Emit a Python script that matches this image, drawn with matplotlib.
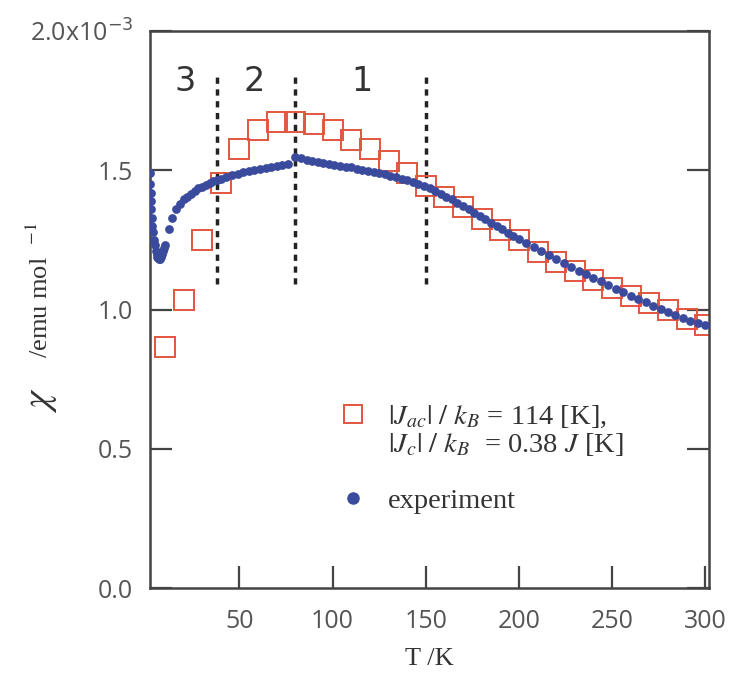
import matplotlib
matplotlib.use('Agg')
import matplotlib.pyplot as plt
from matplotlib.lines import Line2D

# model curve (open squares), chi in units of 1e-3 emu/mol
model_T = [10, 20, 30, 40, 50, 60, 70, 80, 90, 100,
           110, 120, 130, 140, 150, 160, 170, 180, 190, 200,
           210, 220, 230, 240, 250, 260, 270, 280, 290, 300]
model_chi = [0.865, 1.034, 1.25, 1.455, 1.575, 1.645, 1.675, 1.675, 1.665, 1.645,
             1.61, 1.575, 1.535, 1.49, 1.445, 1.405, 1.367, 1.325, 1.287, 1.25,
             1.208, 1.172, 1.137, 1.105, 1.076, 1.047, 1.022, 0.997, 0.965, 0.945]

# measured susceptibility (filled circles)
exp_T = [2.0, 2.2, 2.4, 2.6, 2.8, 3.0, 3.3, 3.6, 4.0, 4.5,
         5.0, 5.5, 6.0, 6.5, 7.0, 7.5, 8.0, 8.5, 9.0, 9.5,
         10, 12, 14, 16, 18, 20, 22, 24, 26, 28,
         30, 32, 34, 36, 38, 40, 43, 46, 49, 52,
         55, 58, 61, 64, 67, 70, 73, 76, 80, 83,
         86, 89, 92, 95, 98, 101, 104, 107, 110, 113,
         116, 119, 122, 125, 128, 131, 134, 137, 140, 143,
         146, 149, 152, 155, 158, 161, 164, 167, 170, 173,
         176, 179, 182, 185, 188, 191, 194, 197, 200, 204,
         208, 212, 216, 220, 224, 228, 232, 236, 240, 244,
         248, 252, 256, 260, 264, 268, 272, 276, 280, 284,
         288, 292, 296, 300]
exp_chi = [1.49, 1.45, 1.42, 1.39, 1.36, 1.33, 1.30, 1.28, 1.25, 1.23,
           1.21, 1.20, 1.19, 1.185, 1.18, 1.18, 1.19, 1.20, 1.21, 1.22,
           1.23, 1.29, 1.33, 1.36, 1.38, 1.395, 1.405, 1.415, 1.425, 1.435,
           1.44, 1.448, 1.454, 1.46, 1.465, 1.47, 1.476, 1.482, 1.487, 1.492,
           1.496, 1.50, 1.504, 1.508, 1.512, 1.516, 1.519, 1.522, 1.548, 1.543,
           1.538, 1.534, 1.53, 1.526, 1.522, 1.519, 1.516, 1.513, 1.51, 1.506,
           1.502, 1.498, 1.494, 1.49, 1.486, 1.481, 1.476, 1.47, 1.465, 1.458,
           1.45, 1.443, 1.435, 1.425, 1.415, 1.405, 1.395, 1.383, 1.372, 1.36,
           1.348, 1.336, 1.324, 1.312, 1.30, 1.288, 1.276, 1.264, 1.252, 1.238,
           1.224, 1.21, 1.196, 1.182, 1.168, 1.154, 1.14, 1.127, 1.114, 1.101,
           1.088, 1.075, 1.062, 1.05, 1.038, 1.026, 1.014, 1.002, 0.991, 0.98,
           0.969, 0.96, 0.952, 0.945]

# region boundaries and labels
bound_T = [38, 80, 150]
region_labels = ['3', '2', '1']
region_T = [21, 58, 116]

x_ticks = [50, 100, 150, 200, 250, 300]
y_ticks = [0.0, 0.5, 1.0, 1.5, 2.0]
y_ticklabels = ['0.0', '0.5', '1.0', '1.5', r'2.0x10$^{-3}$']

sq_color = '#e2563f'
dot_color = '#3a4a9c'
ax_color = '#444444'
label_color = '#555555'

fig = plt.figure(figsize=(7.32, 6.81), dpi=100)
ax = fig.add_axes([150 / 732, 1 - 588 / 681, 559 / 732, 557 / 681])

for t in bound_T:
    ax.plot([t, t], [1.09, 1.84], color='#222222', lw=2.5, linestyle=(0, (1.8, 1.6)), zorder=1)
for t, lab in zip(region_T, region_labels):
    ax.text(t, 1.82, lab, ha='center', va='center', fontsize=24,
            family='Liberation Sans Narrow', color='#333333')

ax.plot(model_T, model_chi, linestyle='none', marker='s', ms=14.5, mfc='none',
        mec=sq_color, mew=1.4, zorder=2)
ax.plot(exp_T, exp_chi, linestyle='none', marker='o', ms=6.3, mfc=dot_color,
        mec=dot_color, mew=0, zorder=3)

ax.set_xlim(2, 302)
ax.set_ylim(0, 2.0)
ax.set_xticks(x_ticks)
ax.set_yticks(y_ticks)
ax.set_yticklabels(y_ticklabels)
ax.tick_params(axis='both', direction='in', length=16, width=1.6, color=ax_color,
               labelsize=18, labelcolor=label_color, pad=12)
ax.tick_params(axis='x', pad=15)
ax.tick_params(axis='y', right=True)
for lab in ax.get_xticklabels() + ax.get_yticklabels():
    lab.set_family('Open Sans')
    lab.set_math_fontfamily('dejavusans')
for sp in ax.spines.values():
    sp.set_color(ax_color)
    sp.set_linewidth(1.8)

ax.set_xlabel('T /K', family='Liberation Serif', fontsize=19, color='#333333', labelpad=10)

# y label drawn in two pieces: the big chi and the unit
fig.text(40 / 732, 1 - 400 / 681, r'$\chi$', rotation=90, fontsize=28, ha='center',
         va='center', color='#333333', math_fontfamily='stix')
fig.text(40 / 732, 1 - 290 / 681, r'/emu mol  $^{-1}$', rotation=90, fontsize=19,
         ha='center', va='center', family='Liberation Serif', color='#333333',
         math_fontfamily='stix')

handles = [
    Line2D([], [], linestyle='none', marker='s', ms=13, mfc='none', mec=sq_color, mew=1.4),
    Line2D([], [], linestyle='none'),
    Line2D([], [], linestyle='none', marker='o', ms=8, mfc=dot_color, mec=dot_color),
]
labels = [
    r'$|J_{ac}|\ /\ k_B$ = 114 [K],',
    r'$|J_{c}|\ /\ k_B$  = 0.38 $J$ [K]' + '\n',
    'experiment',
]
leg = ax.legend(handles, labels, loc='upper left', bbox_to_anchor=(0.313, 0.357),
                frameon=False, fontsize=20.5, handlelength=1.0, handletextpad=0.7,
                labelspacing=0.05, borderpad=0)
for txt in leg.get_texts():
    txt.set_family('Liberation Serif')
    txt.set_math_fontfamily('stix')
    txt.set_color('#333333')

fig.savefig('out.png', dpi=100, facecolor='white')
